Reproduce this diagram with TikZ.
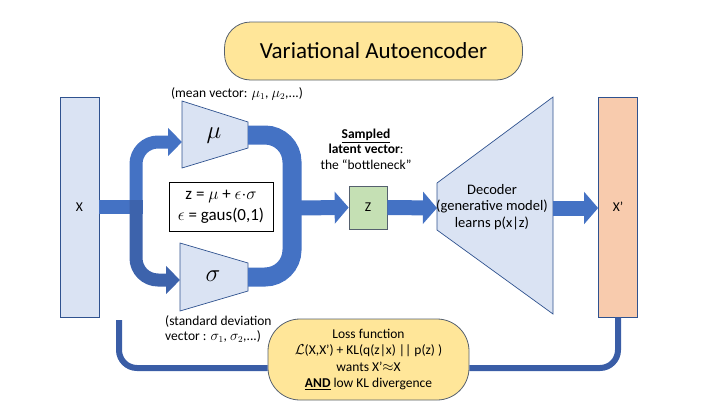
\documentclass[tikz,border=0pt]{standalone}
\usepackage{fontspec}
\setmainfont{Carlito}
\usetikzlibrary{arrows.meta}
\definecolor{lblue}{HTML}{DAE3F3}
\definecolor{dblue}{HTML}{2F528F}
\definecolor{arrblue}{HTML}{4472C4}
\definecolor{arrblue2}{HTML}{3D63AC}
\definecolor{loopblue}{HTML}{3A5DA6}
\definecolor{peach}{HTML}{F8CBAD}
\definecolor{lgreen}{HTML}{C5E0B4}
\definecolor{lyellow}{HTML}{FFE699}
\definecolor{edgegray}{HTML}{55606E}
\begin{document}
\begin{tikzpicture}[x=1pt,y=-1pt,
  vecbox/.style={draw=dblue, line width=0.7pt, minimum width=39pt, minimum height=220pt, inner sep=0pt, font=\fontsize{13.5}{16}\selectfont},
  trap/.style={draw=dblue, line width=0.7pt, fill=lblue},
  pill/.style={draw=edgegray, line width=0.8pt, fill=lyellow, inner sep=0pt},
  lbl/.style={font=\fontsize{13.5}{15.5}\selectfont, inner sep=0pt},
  bigarrow/.style={draw=arrblue, line width=#1, -{Triangle[width=2.1*#1, length=14pt]}},
  band/.style={draw=arrblue, line width=19pt, rounded corners=27pt},
  loopline/.style={draw=loopblue, line width=6pt, rounded corners=18pt}
]
\useasboundingbox (0,0) rectangle (720,405);

% title
\node[pill, rounded corners=26pt, minimum width=298pt, minimum height=58pt, font=\fontsize{23}{27}\selectfont] (title) at (373.5,51) {Variational Autoencoder};

% input and output vectors
\node[vecbox, fill=lblue] (X) at (79.5,207) {X};
\node[vecbox, fill=peach] (Xp) at (618,207) {X’};

% encoder trapezoids
\draw[trap] (182,101) -- (248,122) -- (248,148) -- (182,168) -- cycle;
\node[font=\fontsize{31}{31}\selectfont, inner sep=0pt] (mu) at (214,136) {$\mu$};
\draw[trap] (180,243) -- (248,263) -- (248,291) -- (180,311) -- cycle;
\node[font=\fontsize{31}{31}\selectfont, inner sep=0pt] (sigma) at (213,276) {$\sigma$};
\coordinate (muin) at (182,142);
\coordinate (muout) at (248,135);
\coordinate (sgin) at (180,280);
\coordinate (sgout) at (248,277);
\coordinate (split) at (136,207);
\coordinate (splittop) at (136,200);

% decoder
\draw[trap] (437,183) -- (553,97) -- (553,314) -- (437,230) -- cycle;
\node[font=\fontsize{14.5}{16.5}\selectfont, align=center, inner sep=0pt] (dec) at (492,207) {Decoder\\(generative model)\\learns p(x|z)};
\coordinate (decin) at (437,208);
\coordinate (decout) at (553,208);

% latent
\node[draw=edgegray, line width=0.7pt, fill=lgreen, minimum width=38pt, minimum height=43pt, inner sep=0pt, font=\fontsize{13.5}{16}\selectfont] (z) at (368,207.5) {Z};

% labels
\node[lbl] (meanlbl) at (237,94) {(mean vector: $\mu_1$, $\mu_2$,...)};
\node[lbl, anchor=north west, align=left] (sdlbl) at (165,315) {(standard deviation\\vector : $\sigma_1$, $\sigma_2$,...)};
\node[lbl, align=center] (latlbl) at (366,149) {\textbf{\underline{Sampled}}\\\textbf{latent vector}:\\the “bottleneck”};

% equation box
\node[draw=black, line width=0.8pt, fill=white, minimum width=104pt, minimum height=49pt, align=center, inner sep=0pt, font=\fontsize{17}{21}\selectfont] (eq) at (221,206.5) {z = $\mu$ + $\epsilon{\cdot}\sigma$\\$\epsilon$ = gaus(0,1)};

% arrows: input split
\draw[draw=arrblue, line width=14pt] (X.east |- split) -- ([xshift=7pt]split);
\draw[bigarrow=13pt, rounded corners=22pt] (splittop) -- (splittop |- muin) -- (muin);
\draw[bigarrow=13pt, rounded corners=22pt, draw=arrblue2] (splittop) -- (splittop |- sgin) -- (sgin);

% merge band
\draw[band] (muout) -- (292,135) -- (292,277) -- (sgout);
\coordinate (merge) at (292,208);
\draw[bigarrow=15pt] (merge) -- (z.west);
\draw[bigarrow=15pt] (z.east) -- (decin);
\draw[bigarrow=15pt] (decout) -- (Xp.west |- decout);

% loss
\node[pill, rounded corners=32pt, minimum width=201pt, minimum height=81pt, align=center, font=\fontsize{13.5}{16.3}\selectfont] (loss) at (368.5,359.5) {Loss function\\$\mathcal{L}$(X,X’) + KL(q(z|x) || p(z) )\\wants X’$\approx$X\\\underline{\textbf{AND}} low KL divergence};
\coordinate (lossL) at (119,320);
\draw[loopline] (lossL) |- ([yshift=-8.5pt]loss.west);
\draw[loopline] (Xp.south) |- ([yshift=-8.5pt]loss.east);
\end{tikzpicture}
\end{document}
